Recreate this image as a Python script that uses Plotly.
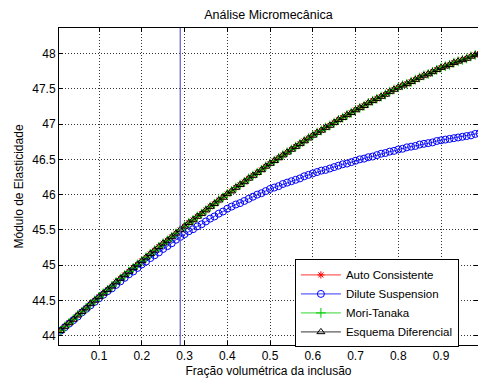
import plotly.graph_objects as go

# Volume fraction of inclusion (0.01 .. 0.99)
fracao = [i / 100 for i in range(1, 100)]

auto_consistente = [
    44.07, 44.13, 44.18, 44.23, 44.29, 44.34, 44.39, 44.45, 44.50, 44.55,
    44.60, 44.65, 44.70, 44.76, 44.81, 44.86, 44.91, 44.96, 45.01, 45.06,
    45.11, 45.16, 45.21, 45.26, 45.31, 45.35, 45.40, 45.45, 45.50, 45.55,
    45.60, 45.64, 45.69, 45.73, 45.78, 45.83, 45.87, 45.92, 45.96, 46.01,
    46.05, 46.10, 46.14, 46.18, 46.23, 46.27, 46.31, 46.35, 46.40, 46.44,
    46.48, 46.52, 46.56, 46.60, 46.64, 46.68, 46.72, 46.76, 46.80, 46.84,
    46.88, 46.91, 46.95, 46.98, 47.02, 47.06, 47.09, 47.13, 47.16, 47.20,
    47.23, 47.26, 47.30, 47.33, 47.36, 47.39, 47.42, 47.46, 47.49, 47.52,
    47.55, 47.57, 47.60, 47.63, 47.66, 47.69, 47.71, 47.74, 47.77, 47.80,
    47.82, 47.84, 47.87, 47.89, 47.91, 47.93, 47.96, 47.98, 48.00,
]

dilute_suspension = [
    44.07, 44.12, 44.17, 44.22, 44.27, 44.33, 44.38, 44.43, 44.48, 44.53,
    44.58, 44.63, 44.67, 44.72, 44.77, 44.82, 44.87, 44.91, 44.96, 45.01,
    45.05, 45.10, 45.14, 45.18, 45.23, 45.27, 45.31, 45.36, 45.40, 45.44,
    45.48, 45.51, 45.55, 45.58, 45.62, 45.66, 45.69, 45.73, 45.76, 45.80,
    45.83, 45.86, 45.88, 45.91, 45.94, 45.97, 46.00, 46.02, 46.05, 46.08,
    46.10, 46.12, 46.15, 46.17, 46.19, 46.21, 46.23, 46.26, 46.28, 46.30,
    46.32, 46.34, 46.35, 46.37, 46.39, 46.41, 46.43, 46.44, 46.46, 46.48,
    46.50, 46.51, 46.53, 46.54, 46.56, 46.58, 46.59, 46.61, 46.62, 46.64,
    46.65, 46.67, 46.68, 46.69, 46.71, 46.72, 46.73, 46.74, 46.76, 46.77,
    46.78, 46.79, 46.80, 46.81, 46.82, 46.83, 46.84, 46.86, 46.87,
]

mori_tanaka = list(auto_consistente)
esquema_diferencial = list(auto_consistente)

fracao_referencia = 0.29

FONT = "Liberation Sans, Arial, sans-serif"

fig = go.Figure()
series = [
    ("Auto Consistente", auto_consistente, "#ff0000", "asterisk-open", 6),
    ("Dilute Suspension", dilute_suspension, "#0000ff", "circle-open", 7),
    ("Mori-Tanaka", mori_tanaka, "#00cc00", "cross-thin-open", 7),
    ("Esquema Diferencial", esquema_diferencial, "#000000", "triangle-up-open", 7),
]
for name, ys, color, sym, size in series:
    fig.add_trace(go.Scatter(
        x=fracao, y=ys, name=name, mode="lines+markers",
        line=dict(color=color, width=0.8),
        marker=dict(symbol=sym, size=size, color=color, line=dict(color=color, width=1)),
        cliponaxis=True,
    ))

fig.add_vline(x=fracao_referencia, line=dict(color="rgb(90,90,205)", width=1.2))

fig.update_layout(
    width=478, height=383,
    margin=dict(l=59, r=0, t=28, b=38),
    paper_bgcolor="white", plot_bgcolor="white",
    font=dict(family=FONT, size=12, color="#000"),
    title=dict(text="Análise Micromecânica", x=0.5, xref="paper", y=0.963, yanchor="middle",
               font=dict(family=FONT, size=12.5, color="#000")),
    showlegend=True,
    legend=dict(x=0.563, y=0.27, xanchor="left", yanchor="top",
                bgcolor="white", bordercolor="#000", borderwidth=1,
                font=dict(family=FONT, size=11.5), tracegroupgap=0, itemwidth=40),
)
fig.update_xaxes(
    range=[0.0064, 0.9865], tickvals=[0.1, 0.2, 0.3, 0.4, 0.5, 0.6, 0.7, 0.8, 0.9],
    ticktext=["0.1", "0.2", "0.3", "0.4", "0.5", "0.6", "0.7", "0.8", "0.9"],
    ticks="inside", ticklen=4, tickcolor="#000",
    showline=True, linecolor="#000", linewidth=1, mirror="ticks",
    showgrid=True, gridcolor="#333", griddash="1px,2px", gridwidth=1,
    zeroline=False,
    title=dict(text="Fração volumétrica da inclusão", standoff=4, font=dict(size=12)),
    tickfont=dict(size=12),
)
fig.update_yaxes(
    range=[43.868, 48.362], tickvals=[44, 44.5, 45, 45.5, 46, 46.5, 47, 47.5, 48],
    ticktext=["44", "44.5", "45", "45.5", "46", "46.5", "47", "47.5", "48"],
    ticks="inside", ticklen=4, tickcolor="#000",
    showline=True, linecolor="#000", linewidth=1, mirror="ticks",
    showgrid=True, gridcolor="#333", griddash="1px,2px", gridwidth=1,
    zeroline=False,
    title=dict(text="Módulo de Elasticidade", standoff=6, font=dict(size=12)),
    tickfont=dict(size=12),
)

fig.write_html("out.html")
